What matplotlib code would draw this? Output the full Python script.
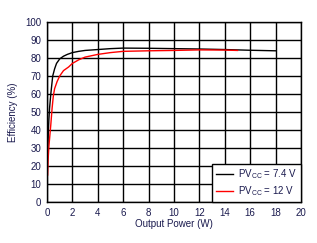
import numpy as np
import matplotlib.pyplot as plt

# Efficiency vs output power, two supply voltages
p_74 = [0.05, 0.1, 0.15, 0.2, 0.3, 0.45, 0.6, 0.75, 1.0, 1.3, 1.6, 2.0, 2.5, 3.0, 4.0, 5.0, 6.0, 8.0, 10.0, 12.0, 14.0, 16.0, 18.0]
eff_74 = [25, 38, 46, 52, 60, 70, 74, 77, 79.5, 81, 82, 83, 83.7, 84.2, 84.7, 85.2, 85.5, 85.4, 85.2, 85.0, 84.7, 84.3, 84.0]

p_12 = [0.05, 0.1, 0.15, 0.2, 0.3, 0.4, 0.5, 0.6, 0.8, 1.0, 1.3, 1.7, 2.0, 2.5, 3.0, 4.0, 5.0, 6.0, 8.0, 10.0, 12.0, 14.0, 15.0]
eff_12 = [15, 25, 31, 35, 43, 52, 59, 63, 67, 70, 73, 75, 77, 79, 80.5, 82, 83, 83.7, 84, 84.2, 84.5, 84.4, 84.2]

x_ticks = np.arange(0, 21, 2)
y_ticks = np.arange(0, 101, 10)

txt = '#1a1a4e'
plt.rcParams['font.family'] = ['Liberation Sans', 'DejaVu Sans']

fig = plt.figure(figsize=(3.17, 2.43), dpi=100)
ax = fig.add_axes([47 / 317, 41 / 243, 254 / 317, 180 / 243])

ax.plot(p_74, eff_74, color='black', lw=1, label='PV$_{\\mathregular{CC}}$ = 7.4 V')
ax.plot(p_12, eff_12, color='red', lw=1, label='PV$_{\\mathregular{CC}}$ = 12 V')

ax.set_xlim(0, 20)
ax.set_ylim(0, 100)
ax.set_xticks(x_ticks)
ax.set_yticks(y_ticks)
ax.grid(True, color='black', lw=1)
ax.tick_params(length=0, labelsize=7, colors=txt, pad=4)
for s in ax.spines.values():
    s.set_color('black')
    s.set_linewidth(1)

ax.set_xlabel('Output Power (W)', fontsize=7, color=txt, labelpad=1)
ax.set_ylabel('Efficiency (%)', fontsize=7, color=txt, labelpad=5)

leg = ax.legend(loc='lower right', fontsize=7, fancybox=False, framealpha=1,
                edgecolor='black', borderaxespad=0, handlelength=1.8,
                handletextpad=0.5, labelspacing=0.3, borderpad=0.4)
leg.get_frame().set_linewidth(1)
for t in leg.get_texts():
    t.set_color(txt)

fig.savefig('out.png', dpi=100)
